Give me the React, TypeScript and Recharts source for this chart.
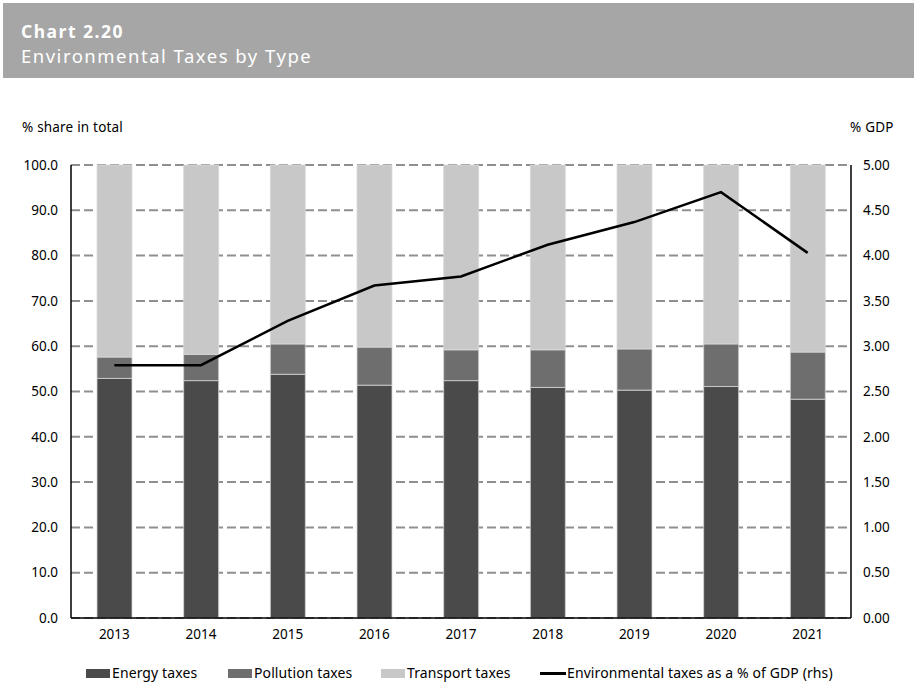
import React from "react";
import { ComposedChart, Bar, Line, XAxis, YAxis, CartesianGrid } from "recharts";

const years = ["2013", "2014", "2015", "2016", "2017", "2018", "2019", "2020", "2021"];
const energyTaxes = [52.9, 52.4, 53.8, 51.4, 52.4, 50.9, 50.3, 51.1, 48.3];
const pollutionTaxes = [4.7, 5.8, 6.7, 8.4, 6.8, 8.3, 9.1, 9.4, 10.4];
const transportTaxes = [42.4, 41.8, 39.5, 40.2, 40.8, 40.8, 40.6, 39.5, 41.3];
const envTaxesGdp = [2.79, 2.79, 3.28, 3.67, 3.77, 4.12, 4.37, 4.70, 4.03];

const leftTicks = [0, 10, 20, 30, 40, 50, 60, 70, 80, 90, 100];
const rightTicks = [0, 0.5, 1, 1.5, 2, 2.5, 3, 3.5, 4, 4.5, 5];

const seriesNames = ["Energy taxes", "Pollution taxes", "Transport taxes", "Environmental taxes as a % of GDP (rhs)"];
const colors = ["#4a4a4a", "#6e6e6e", "#c8c8c8", "#000000"];

const data = years.map((y, i) => ({
  year: y,
  energy: energyTaxes[i],
  pollution: pollutionTaxes[i],
  transport: transportTaxes[i],
  gdp: envTaxesGdp[i],
}));

const FONT = "'Noto Sans', sans-serif";

export default function App() {
  const legendLefts = [86, 228, 381, 540];
  return (
    <div style={{ position: "absolute", left: 0, top: 0, width: 914, height: 685, background: "#fff", fontFamily: FONT, overflow: "hidden" }}>
      <div style={{ position: "absolute", left: 3, top: 3, width: 911, height: 75, background: "#a6a6a6" }} />
      <div style={{ position: "absolute", left: 21, top: 18.5, color: "#fff", fontWeight: 700, fontSize: 17.5, letterSpacing: 1.5, lineHeight: "24px" }}>Chart 2.20</div>
      <div style={{ position: "absolute", left: 21, top: 43, color: "#fff", fontSize: 18.5, letterSpacing: 1.5, lineHeight: "25px" }}>Environmental Taxes by Type</div>
      <div style={{ position: "absolute", left: 22, top: 118, color: "#000", fontSize: 13.5, letterSpacing: 0.2, lineHeight: "18px" }}>% share in total</div>
      <div style={{ position: "absolute", left: 850, top: 118, color: "#000", fontSize: 13.5, letterSpacing: 0.2, lineHeight: "18px" }}>% GDP</div>
      <div style={{ position: "absolute", left: 0, top: 0 }}>
        <ComposedChart width={914} height={685} data={data} margin={{ top: 165, right: 3, bottom: 37, left: 11 }}>
          <CartesianGrid vertical={false} stroke="#8f8f8f" strokeWidth={2} strokeDasharray="9 4" yAxisId="left" />
          <XAxis
            dataKey="year"
            height={30}
            tickLine={false}
            tickSize={0}
            tickMargin={11}
            axisLine={{ stroke: "#000", strokeWidth: 1.5 }}
            tick={{ fill: "#000", fontSize: 13.5, fontFamily: FONT }}
          />
          <YAxis
            yAxisId="left"
            orientation="left"
            width={60}
            domain={[0, 100]}
            ticks={leftTicks}
            tickFormatter={(v: number) => v.toFixed(1)}
            tickLine={false}
            tickSize={0}
            tickMargin={13}
            axisLine={{ stroke: "#000", strokeWidth: 1.5 }}
            tick={{ fill: "#000", fontSize: 13.5, fontFamily: FONT }}
            interval={0}
          />
          <YAxis
            yAxisId="right"
            orientation="right"
            width={60}
            domain={[0, 5]}
            ticks={rightTicks}
            tickFormatter={(v: number) => v.toFixed(2)}
            tickLine={false}
            tickSize={0}
            tickMargin={12}
            axisLine={{ stroke: "#000", strokeWidth: 1.5 }}
            tick={{ fill: "#000", fontSize: 13.5, fontFamily: FONT, textAnchor: "start" }}
            interval={0}
          />
          <Bar yAxisId="left" dataKey="energy" stackId="a" fill={colors[0]} stroke="#d4d4d4" strokeWidth={0.8} barSize={35} isAnimationActive={false} />
          <Bar yAxisId="left" dataKey="pollution" stackId="a" fill={colors[1]} stroke="#d4d4d4" strokeWidth={0.8} barSize={35} isAnimationActive={false} />
          <Bar yAxisId="left" dataKey="transport" stackId="a" fill={colors[2]} stroke="#d9d9d9" strokeWidth={0.8} barSize={35} isAnimationActive={false} />
          <Line yAxisId="right" dataKey="gdp" type="linear" stroke="#000" strokeWidth={2.5} dot={false} activeDot={false} isAnimationActive={false} />
        </ComposedChart>
      </div>
      {seriesNames.map((name, i) => (
        <div key={name} style={{ position: "absolute", left: legendLefts[i], top: 663, display: "flex", alignItems: "center", fontSize: 14, letterSpacing: 0.1, lineHeight: "20px", color: "#000", whiteSpace: "nowrap" }}>
          {i < 3 ? (
            <span style={{ display: "inline-block", width: 24, height: 9, background: colors[i], marginRight: 2 }} />
          ) : (
            <span style={{ display: "inline-block", width: 26, height: 3, background: colors[i], marginRight: 1 }} />
          )}
          <span>{name}</span>
        </div>
      ))}
    </div>
  );
}
